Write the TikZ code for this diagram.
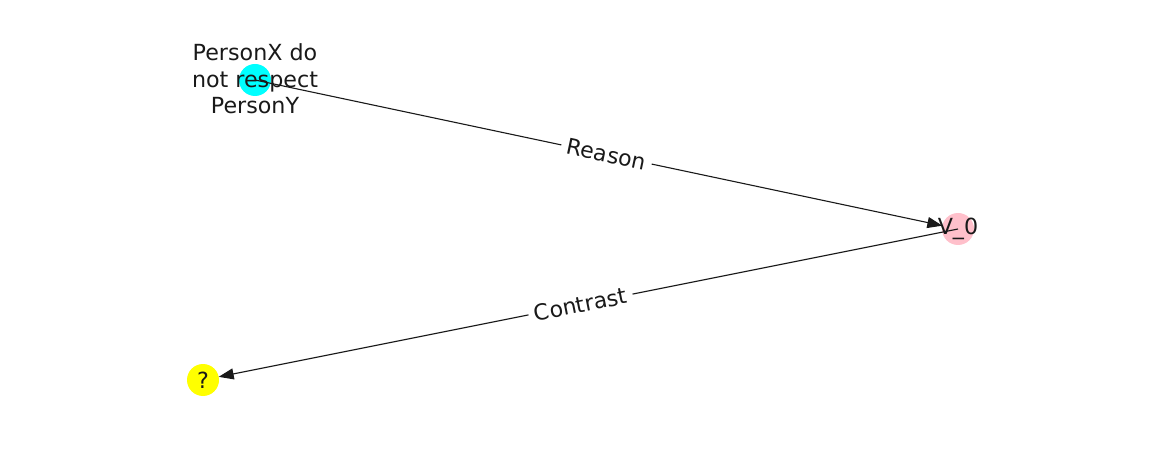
\documentclass[tikz,border=0pt]{standalone}
\usepackage{fontspec}
\setmainfont{DejaVu Sans}
\usetikzlibrary{arrows.meta}
\definecolor{ncyan}{RGB}{0,255,255}
\definecolor{npink}{RGB}{255,192,203}
\definecolor{nyellow}{RGB}{255,255,0}
\begin{document}
\begin{tikzpicture}[x=1pt,y=-1pt,
  vert/.style={circle,minimum size=32pt,inner sep=0pt,draw=none},
  lbl/.style={font=\fontsize{22.2}{26.5}\selectfont,align=center,text=black!90,inner sep=0pt},
  edge/.style={draw=black!90,line width=1.1pt,-{Triangle[length=15pt,width=11pt]},shorten >=16pt},
  elbl/.style={font=\fontsize{22}{26}\selectfont,fill=white,inner xsep=6pt,inner ysep=4pt,text=black!90,sloped}]
\useasboundingbox (0,0) rectangle (1162,462);
\node[vert,fill=ncyan] (a) at (255,80) {};
\node[vert,fill=npink] (b) at (958,229) {};
\node[vert,fill=nyellow] (c) at (203,380) {};
\node[lbl] (at) at (255,79) {PersonX do\\not respect\\PersonY};
\node[lbl] (bt) at (b) {V\_0};
\node[lbl] (ct) at (c) {?};
\draw[edge] (a.center) -- (b.center) node[elbl,pos=0.5] (e1) {Reason};
\draw[edge] (b.center) -- (c.center) node[elbl,pos=0.5] (e2) {Contrast};
\end{tikzpicture}
\end{document}
